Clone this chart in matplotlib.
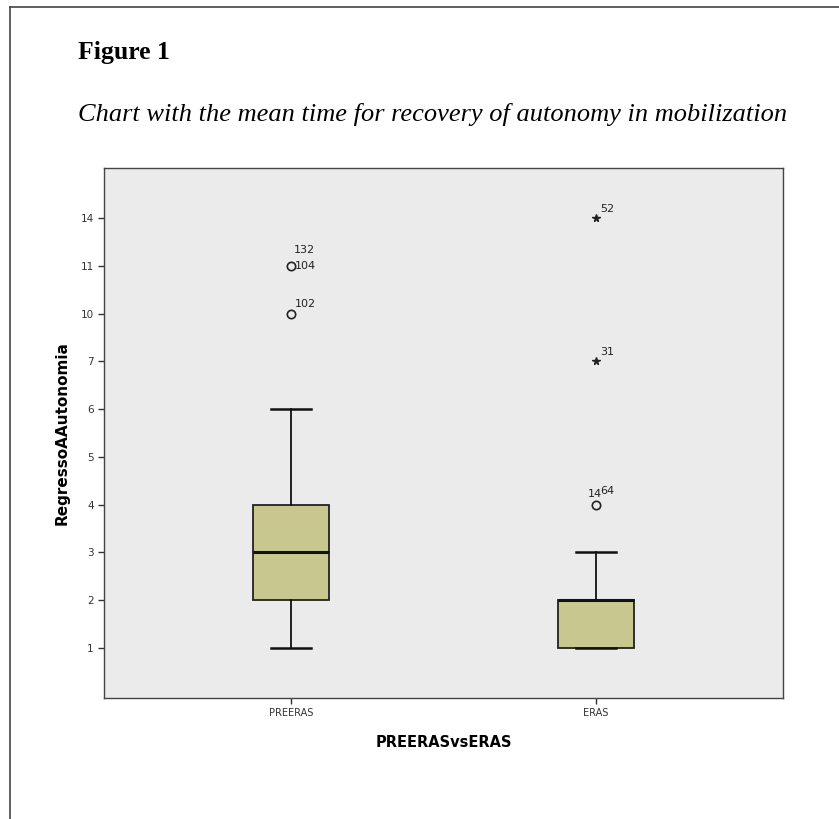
import matplotlib
matplotlib.use("Agg")
import matplotlib.pyplot as plt
from matplotlib.lines import Line2D

# y axis in the original is ordinal: these are the only values shown, equally spaced
y_tick_values = [1, 2, 3, 4, 5, 6, 7, 10, 11, 14]
groups = ["PREERAS", "ERAS"]

# box stats per group (value units)
q1 = [2, 1]
median = [3, 2]
q3 = [4, 2]
whisker_lo = [1, 1]
whisker_hi = [6, 3]

# outliers: (group index, value, marker, case labels)
outliers = [
    (0, 11, "o", ["132", "104"]),
    (0, 10, "o", ["102"]),
    (1, 14, "*", ["52"]),
    (1, 7, "*", ["31"]),
    (1, 4, "o", ["14", "64"]),
]


def pos(v):
    # map a value onto its ordinal slot on the axis
    return y_tick_values.index(v) + 1


fig = plt.figure(figsize=(8.39, 8.19), dpi=100)

# page frame (left and top rule)
fig.add_artist(Line2D([10 / 839, 10 / 839], [0, 1 - 7 / 819], color="#444444", lw=1.2))
fig.add_artist(Line2D([10 / 839, 1], [1 - 7 / 819, 1 - 7 / 819], color="#444444", lw=1.2))

fig.text(78 / 839, 1 - 52 / 819, "Figure 1", fontsize=18.5, fontweight="bold",
         family="Liberation Serif", va="center", ha="left")
fig.text(78 / 839, 1 - 115 / 819,
         "Chart with the mean time for recovery of autonomy in mobilization",
         fontsize=19, style="italic", family="Liberation Serif", va="center", ha="left")

ax = fig.add_axes([104 / 839, 1 - 698 / 819, (783 - 104) / 839, (698 - 168) / 819])
ax.set_facecolor("#ebebeb")

stats = []
for i in range(len(groups)):
    stats.append(dict(med=pos(median[i]), q1=pos(q1[i]), q3=pos(q3[i]),
                      whislo=pos(whisker_lo[i]), whishi=pos(whisker_hi[i]),
                      fliers=[], label=groups[i]))

ax.bxp(stats, positions=[1, 2], widths=0.25, patch_artist=True,
       boxprops=dict(facecolor="#c8c78f", edgecolor="#222222", lw=1.3),
       medianprops=dict(color="#111111", lw=2.2),
       whiskerprops=dict(color="#111111", lw=1.3),
       capprops=dict(color="#111111", lw=1.8),
       capwidths=0.13, showfliers=False)

for g, v, m, labs in outliers:
    x, y = g + 1, pos(v)
    if m == "o":
        ax.plot(x, y, marker="o", ms=6, mfc="none", mec="#222222", mew=1.2, ls="none")
    else:
        ax.plot(x, y, marker="*", ms=5.5, color="#222222", ls="none")
    if len(labs) == 2 and g == 0:
        ax.annotate(labs[0], (x, y), xytext=(2, 8), textcoords="offset points",
                    fontsize=8, ha="left", va="bottom", color="#222222")
        ax.annotate(labs[1], (x, y), xytext=(3, 0), textcoords="offset points",
                    fontsize=8, ha="left", va="center", color="#222222")
    elif len(labs) == 2:
        ax.annotate(labs[0], (x, y), xytext=(-6, 4), textcoords="offset points",
                    fontsize=8, ha="left", va="bottom", color="#222222")
        ax.annotate(labs[1], (x, y), xytext=(3, 6), textcoords="offset points",
                    fontsize=8, ha="left", va="bottom", color="#222222")
    else:
        ax.annotate(labs[0], (x, y), xytext=(3, 3), textcoords="offset points",
                    fontsize=8, ha="left", va="bottom", color="#222222")

ax.set_xlim(0.387, 2.613)
ax.set_ylim(-0.05, len(y_tick_values) + 1.05)
ax.set_xticks([1, 2])
ax.set_xticklabels(groups, fontsize=7, color="#333333")
ax.set_yticks(range(1, len(y_tick_values) + 1))
ax.set_yticklabels([str(v) for v in y_tick_values], fontsize=7.5, color="#333333")
ax.tick_params(length=4, width=1, color="#333333")
for s in ax.spines.values():
    s.set_color("#444444")
    s.set_linewidth(1)

ax.set_ylabel("RegressoAAutonomia", fontsize=11, fontweight="bold", labelpad=8)
ax.set_xlabel("PREERASvsERAS", fontsize=10.5, fontweight="bold", labelpad=12)

fig.savefig("out.png", dpi=100)
